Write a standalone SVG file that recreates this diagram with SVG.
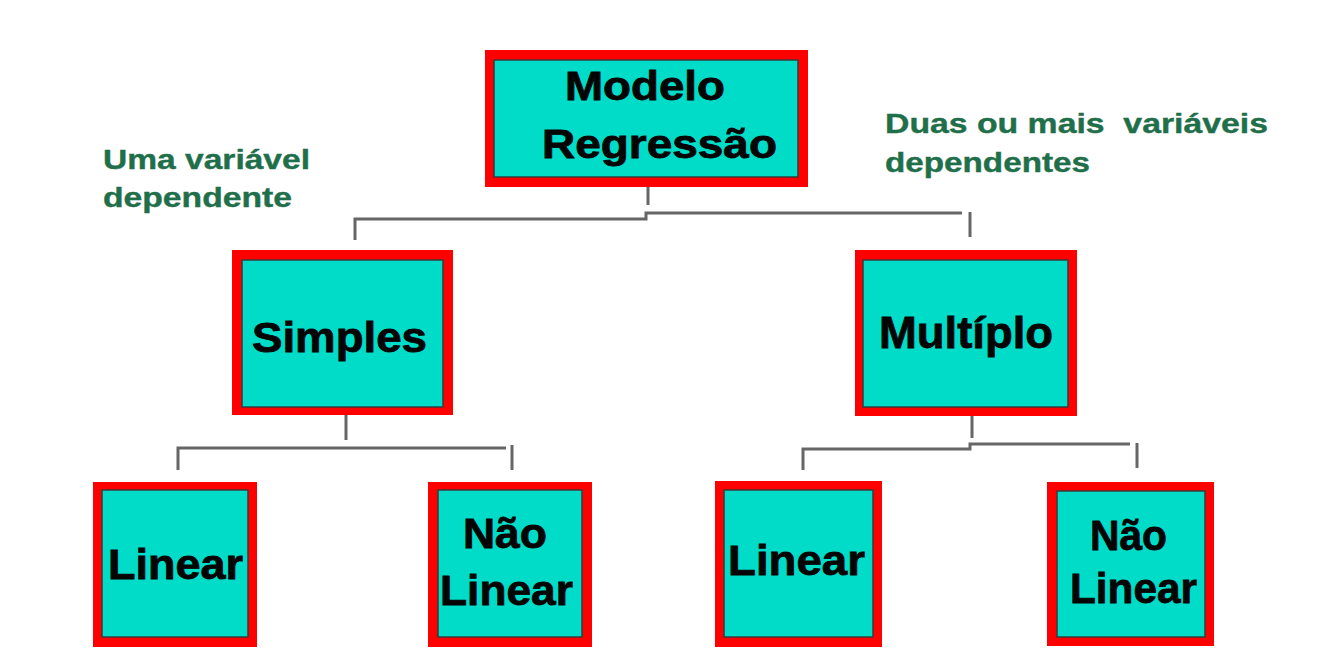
<svg xmlns="http://www.w3.org/2000/svg" width="1334" height="657" viewBox="0 0 1334 657">
<style>
.outer{fill:#ff0000;}
.inner{fill:#00dcc8;stroke:#3a3a3a;stroke-width:1.5;}
.t{font-family:"Liberation Sans",Arial,sans-serif;font-weight:bold;fill:#050505;stroke:#050505;stroke-width:0.8;}
.lbl{font-family:"Liberation Sans",Arial,sans-serif;font-weight:bold;fill:#1f6f4a;stroke:#1f6f4a;stroke-width:0.4;font-size:27px;white-space:pre;}
.c{fill:none;stroke:#666;stroke-width:3;}
</style>
<rect width="1334" height="657" fill="#ffffff"/>
<g id="connectors">
<path class="c" d="M648,187 V205"/>
<path class="c" d="M355,240 V219 H646 V213 H962"/>
<path class="c" d="M970,212 V237"/>
<path class="c" d="M346,415 V440"/>
<path class="c" d="M178,470 V448 H506"/>
<path class="c" d="M512,445 V470"/>
<path class="c" d="M972,416 V438"/>
<path class="c" d="M803,470 V449 H970 V444 H1130"/>
<path class="c" d="M1137,443 V468"/>
</g>
<g id="label-left">
<text class="lbl" x="103" y="169" textLength="207" lengthAdjust="spacingAndGlyphs">Uma variável</text>
<text class="lbl" x="103" y="207" textLength="189" lengthAdjust="spacingAndGlyphs">dependente</text>
</g>
<g id="label-right">
<text class="lbl" x="885" y="133" textLength="383" lengthAdjust="spacingAndGlyphs">Duas ou mais  variáveis</text>
<text class="lbl" x="885" y="172" textLength="205" lengthAdjust="spacingAndGlyphs">dependentes</text>
</g>
<g id="modelo-regressao">
<rect class="outer" x="485" y="50" width="323" height="137"/>
<rect class="inner" x="494" y="60" width="304" height="117"/>
<text class="t" x="565" y="100" font-size="40" textLength="160" lengthAdjust="spacingAndGlyphs">Modelo</text>
<text class="t" x="542" y="158" font-size="40" textLength="235" lengthAdjust="spacingAndGlyphs">Regressão</text>
</g>
<g id="simples">
<rect class="outer" x="232" y="250" width="221" height="165"/>
<rect class="inner" x="242" y="260" width="201" height="147"/>
<text class="t" x="252" y="352" font-size="42" textLength="175" lengthAdjust="spacingAndGlyphs">Simples</text>
</g>
<g id="multiplo">
<rect class="outer" x="855" y="250" width="222" height="166"/>
<rect class="inner" x="863" y="260" width="205" height="147"/>
<text class="t" x="879" y="348" font-size="44" textLength="174" lengthAdjust="spacingAndGlyphs">Multíplo</text>
</g>
<g id="linear-simples">
<rect class="outer" x="93" y="482" width="164" height="165"/>
<rect class="inner" x="102" y="490" width="146" height="147"/>
<text class="t" x="108" y="579" font-size="42" textLength="135" lengthAdjust="spacingAndGlyphs">Linear</text>
</g>
<g id="nao-linear-simples">
<rect class="outer" x="428" y="482" width="164" height="165"/>
<rect class="inner" x="438" y="490" width="144" height="147"/>
<text class="t" x="463" y="548" font-size="42" textLength="84" lengthAdjust="spacingAndGlyphs">Não</text>
<text class="t" x="440" y="605" font-size="42" textLength="133" lengthAdjust="spacingAndGlyphs">Linear</text>
</g>
<g id="linear-multiplo">
<rect class="outer" x="715" y="481" width="167" height="166"/>
<rect class="inner" x="724" y="490" width="149" height="147"/>
<text class="t" x="728" y="575" font-size="42" textLength="137" lengthAdjust="spacingAndGlyphs">Linear</text>
</g>
<g id="nao-linear-multiplo">
<rect class="outer" x="1047" y="482" width="167" height="164"/>
<rect class="inner" x="1057" y="491" width="148" height="146"/>
<text class="t" x="1090" y="550" font-size="42" textLength="77" lengthAdjust="spacingAndGlyphs">Não</text>
<text class="t" x="1070" y="603" font-size="42" textLength="127" lengthAdjust="spacingAndGlyphs">Linear</text>
</g>
</svg>
